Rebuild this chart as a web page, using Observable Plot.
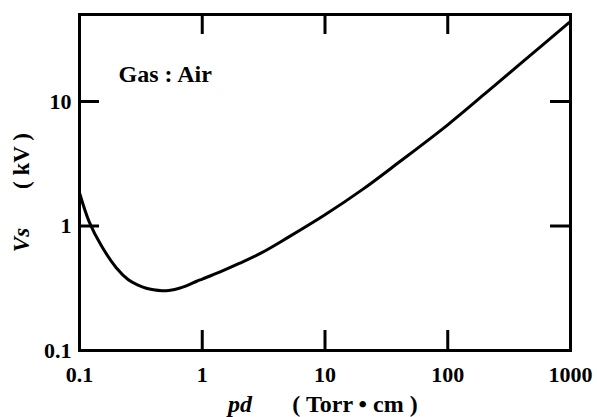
<!DOCTYPE html>
<html>
<head>
<meta charset="utf-8">
<script src="https://cdn.jsdelivr.net/npm/d3@7"></script>
<script src="https://cdn.jsdelivr.net/npm/@observablehq/plot@0.6"></script>
<style>
  body { margin: 0; background: #fff; }
  svg { display: block; }
  svg text { font-family: "Liberation Serif", "Times New Roman", serif; font-weight: bold; }
</style>
</head>
<body>
<div id="chart"></div>
<script>
// Paschen curve for air
const pd = [0.1, 0.12, 0.15, 0.2, 0.25, 0.3, 0.35, 0.4, 0.47, 0.55, 0.65, 0.75, 0.9, 1, 1.4, 2, 3, 5, 10, 20, 40, 100, 200, 400, 1000];
const vs = [1.85, 1.08, 0.70, 0.46, 0.37, 0.335, 0.316, 0.307, 0.302, 0.305, 0.316, 0.332, 0.36, 0.375, 0.428, 0.50, 0.605, 0.81, 1.23, 1.95, 3.25, 6.5, 11.5, 20.5, 44];

const xTickLabels = [0.1, 1, 10, 100, 1000];
const yTickLabels = [0.1, 1, 10];
const xInnerTicks = [1, 10, 100];
const yInnerTicks = [1, 10];
const annotation = "Gas : Air";
const xTitle = ["pd", "( Torr • cm )"];
const yTitle = ["Vs", "( kV )"];

const data = pd.map((x, i) => ({pd: x, vs: vs[i]}));

const W = 597, H = 417;
const mL = 79, mR = 27, mT = 14, mB = 67;
const plotH = H - mT - mB;
const plotW = W - mL - mR;
const tick = 20;
const font = "Liberation Serif";

const chart = Plot.plot({
  width: W,
  height: H,
  marginLeft: mL,
  marginRight: mR,
  marginTop: mT,
  marginBottom: mB,
  style: {fontFamily: font, fontWeight: "bold", fontSize: "22px", color: "#000", background: "#fff"},
  x: {type: "log", domain: [0.1, 1000]},
  y: {type: "log", domain: [0.1, 50]},
  marks: [
    Plot.axisX(xTickLabels, {tickSize: 0, tickPadding: 16, tickFormat: d => String(d), label: null, fontSize: 22, fontWeight: "bold"}),
    Plot.axisY(yTickLabels, {tickSize: 0, tickPadding: 8, tickFormat: d => String(d), label: null, fontSize: 22, fontWeight: "bold"}),
    Plot.tickX(xInnerTicks, {x: d => d, insetTop: plotH - tick, stroke: "#000", strokeWidth: 3}),
    Plot.tickX(xInnerTicks, {x: d => d, insetBottom: plotH - tick, stroke: "#000", strokeWidth: 3}),
    Plot.tickY(yInnerTicks, {y: d => d, insetRight: plotW - tick, stroke: "#000", strokeWidth: 3}),
    Plot.tickY(yInnerTicks, {y: d => d, insetLeft: plotW - tick, stroke: "#000", strokeWidth: 3}),
    Plot.line(data, {x: "pd", y: "vs", curve: "catmull-rom", stroke: "#000", strokeWidth: 3}),
    Plot.frame({stroke: "#000", strokeWidth: 3}),
    Plot.text([annotation], {frameAnchor: "top-left", dx: 39, dy: 50, textAnchor: "start", fontSize: 24, fontWeight: "bold", fill: "#000"})
  ]
});

document.getElementById("chart").appendChild(chart);

const svg = d3.select(chart);
function addText(txt, x, y, italic, rotate, size) {
  const t = svg.append("text")
    .attr("font-family", font)
    .attr("font-weight", "bold")
    .attr("font-size", size)
    .attr("fill", "#000")
    .attr("text-anchor", "middle")
    .text(txt);
  if (italic) t.attr("font-style", "italic");
  if (rotate) t.attr("transform", `translate(${x},${y}) rotate(-90)`);
  else t.attr("x", x).attr("y", y);
  return t;
}
// x-axis title
addText(xTitle[0], 240, 412, true, false, 24);
addText(xTitle[1], 355, 412, false, false, 24);
// y-axis title (rotated)
addText(yTitle[0], 29, 240, true, true, 23);
addText(yTitle[1], 29, 161, false, true, 23);
</script>
</body>
</html>
